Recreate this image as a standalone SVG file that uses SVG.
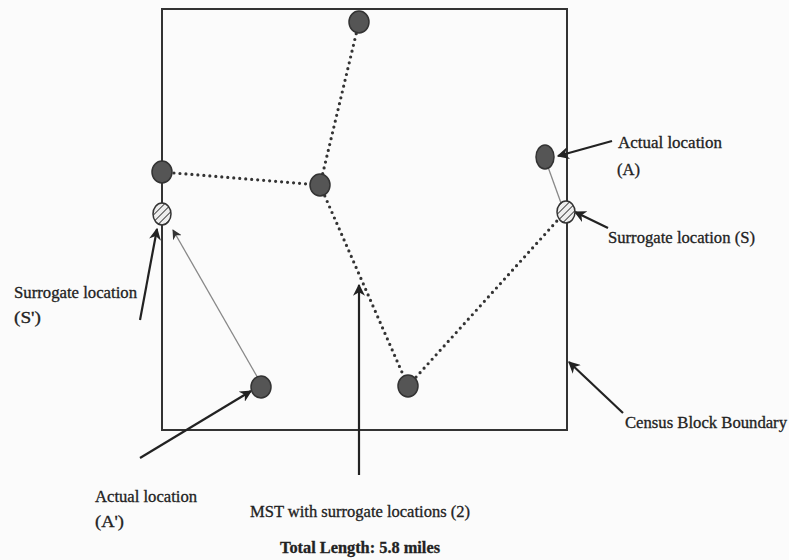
<svg xmlns="http://www.w3.org/2000/svg" width="789" height="560" viewBox="0 0 789 560">
<defs>
<style>
.lbl{font-family:"Liberation Serif","DejaVu Serif",serif;font-size:16px;fill:#222;stroke:#222;stroke-width:0.3}
.bold{font-weight:bold}
.act{fill:#555;stroke:#333;stroke-width:1.5}
.sur{fill:url(#hatch);stroke:#333;stroke-width:1.5}
.mst{stroke:#333;stroke-width:3.2;stroke-linecap:round;stroke-dasharray:0 6;fill:none}
.ptr{stroke:#222;stroke-width:2.2;fill:none;marker-end:url(#ah)}
.thin{stroke:#888;stroke-width:1.3;fill:none}
</style>
<pattern id="hatch" width="5" height="5" patternUnits="userSpaceOnUse" patternTransform="rotate(45)">
<rect width="5" height="5" fill="#eee"/>
<line x1="0" y1="0" x2="0" y2="5" stroke="#444" stroke-width="2"/>
</pattern>
<marker id="ah" viewBox="0 0 10 10" refX="9" refY="5" markerWidth="12" markerHeight="12" orient="auto" markerUnits="userSpaceOnUse">
<path d="M0,0 L10,5 L0,10 L3,5 Z" fill="#222"/>
</marker>
<marker id="ahg" viewBox="0 0 10 10" refX="9" refY="5" markerWidth="10" markerHeight="10" orient="auto" markerUnits="userSpaceOnUse">
<path d="M0,0 L10,5 L0,10 L3,5 Z" fill="#333"/>
</marker>
</defs>
<rect width="789" height="560" fill="#fbfbfb"/>
<g id="boundary">
<rect x="162" y="9" width="405" height="421" fill="none" stroke="#333" stroke-width="2"/>
</g>
<g id="connectors">
<line class="mst" x1="359" y1="22" x2="320" y2="185"/>
<line class="mst" x1="162" y1="172" x2="320" y2="185"/>
<line class="mst" x1="320" y1="185" x2="408" y2="386"/>
<line class="mst" x1="408" y1="386" x2="565" y2="212"/>
<line class="thin" x1="259" y1="380" x2="173" y2="230" marker-end="url(#ahg)"/>
<line class="thin" x1="548" y1="167" x2="561" y2="203"/>
<line class="ptr" x1="612" y1="141" x2="558" y2="156"/>
<line class="ptr" x1="608" y1="228" x2="575" y2="212"/>
<line class="ptr" x1="140" y1="320" x2="157" y2="229"/>
<line class="ptr" x1="140" y1="458" x2="251" y2="391"/>
<line class="ptr" x1="359" y1="475" x2="359" y2="285"/>
<line class="ptr" x1="623" y1="413" x2="569" y2="362"/>
</g>
<g id="node-top"><ellipse class="act" cx="359" cy="22" rx="10" ry="11"/></g>
<g id="node-left"><ellipse class="act" cx="162" cy="172" rx="10" ry="11"/></g>
<g id="node-mid"><ellipse class="act" cx="320" cy="185" rx="10" ry="11"/></g>
<g id="node-bottom"><ellipse class="act" cx="408" cy="386" rx="10" ry="11"/></g>
<g id="node-actual-a2"><ellipse class="act" cx="261" cy="387" rx="10" ry="11"/></g>
<g id="node-actual-a"><ellipse class="act" cx="545" cy="157" rx="9" ry="12"/></g>
<g id="node-surrogate-s2"><ellipse class="sur" cx="162" cy="214" rx="9" ry="11"/></g>
<g id="node-surrogate-s"><ellipse class="sur" cx="566" cy="212" rx="9" ry="11"/></g>
<g id="labels">
<text class="lbl" x="618" y="148" textLength="104" lengthAdjust="spacingAndGlyphs">Actual location</text>
<text class="lbl" x="617" y="175" textLength="23" lengthAdjust="spacingAndGlyphs">(A)</text>
<text class="lbl" x="608" y="243" textLength="147" lengthAdjust="spacingAndGlyphs">Surrogate location (S)</text>
<text class="lbl" x="14" y="298" textLength="123" lengthAdjust="spacingAndGlyphs">Surrogate location</text>
<text class="lbl" x="14" y="323" textLength="27" lengthAdjust="spacingAndGlyphs">(S')</text>
<text class="lbl" x="95" y="502" textLength="102" lengthAdjust="spacingAndGlyphs">Actual location</text>
<text class="lbl" x="95" y="527" textLength="29" lengthAdjust="spacingAndGlyphs">(A')</text>
<text class="lbl" x="250" y="517" textLength="220" lengthAdjust="spacingAndGlyphs">MST with surrogate locations (2)</text>
<text class="lbl bold" x="280" y="553" textLength="160" lengthAdjust="spacingAndGlyphs">Total Length: 5.8 miles</text>
<text class="lbl" x="625" y="428" textLength="162" lengthAdjust="spacingAndGlyphs">Census Block Boundary</text>
</g>
</svg>
